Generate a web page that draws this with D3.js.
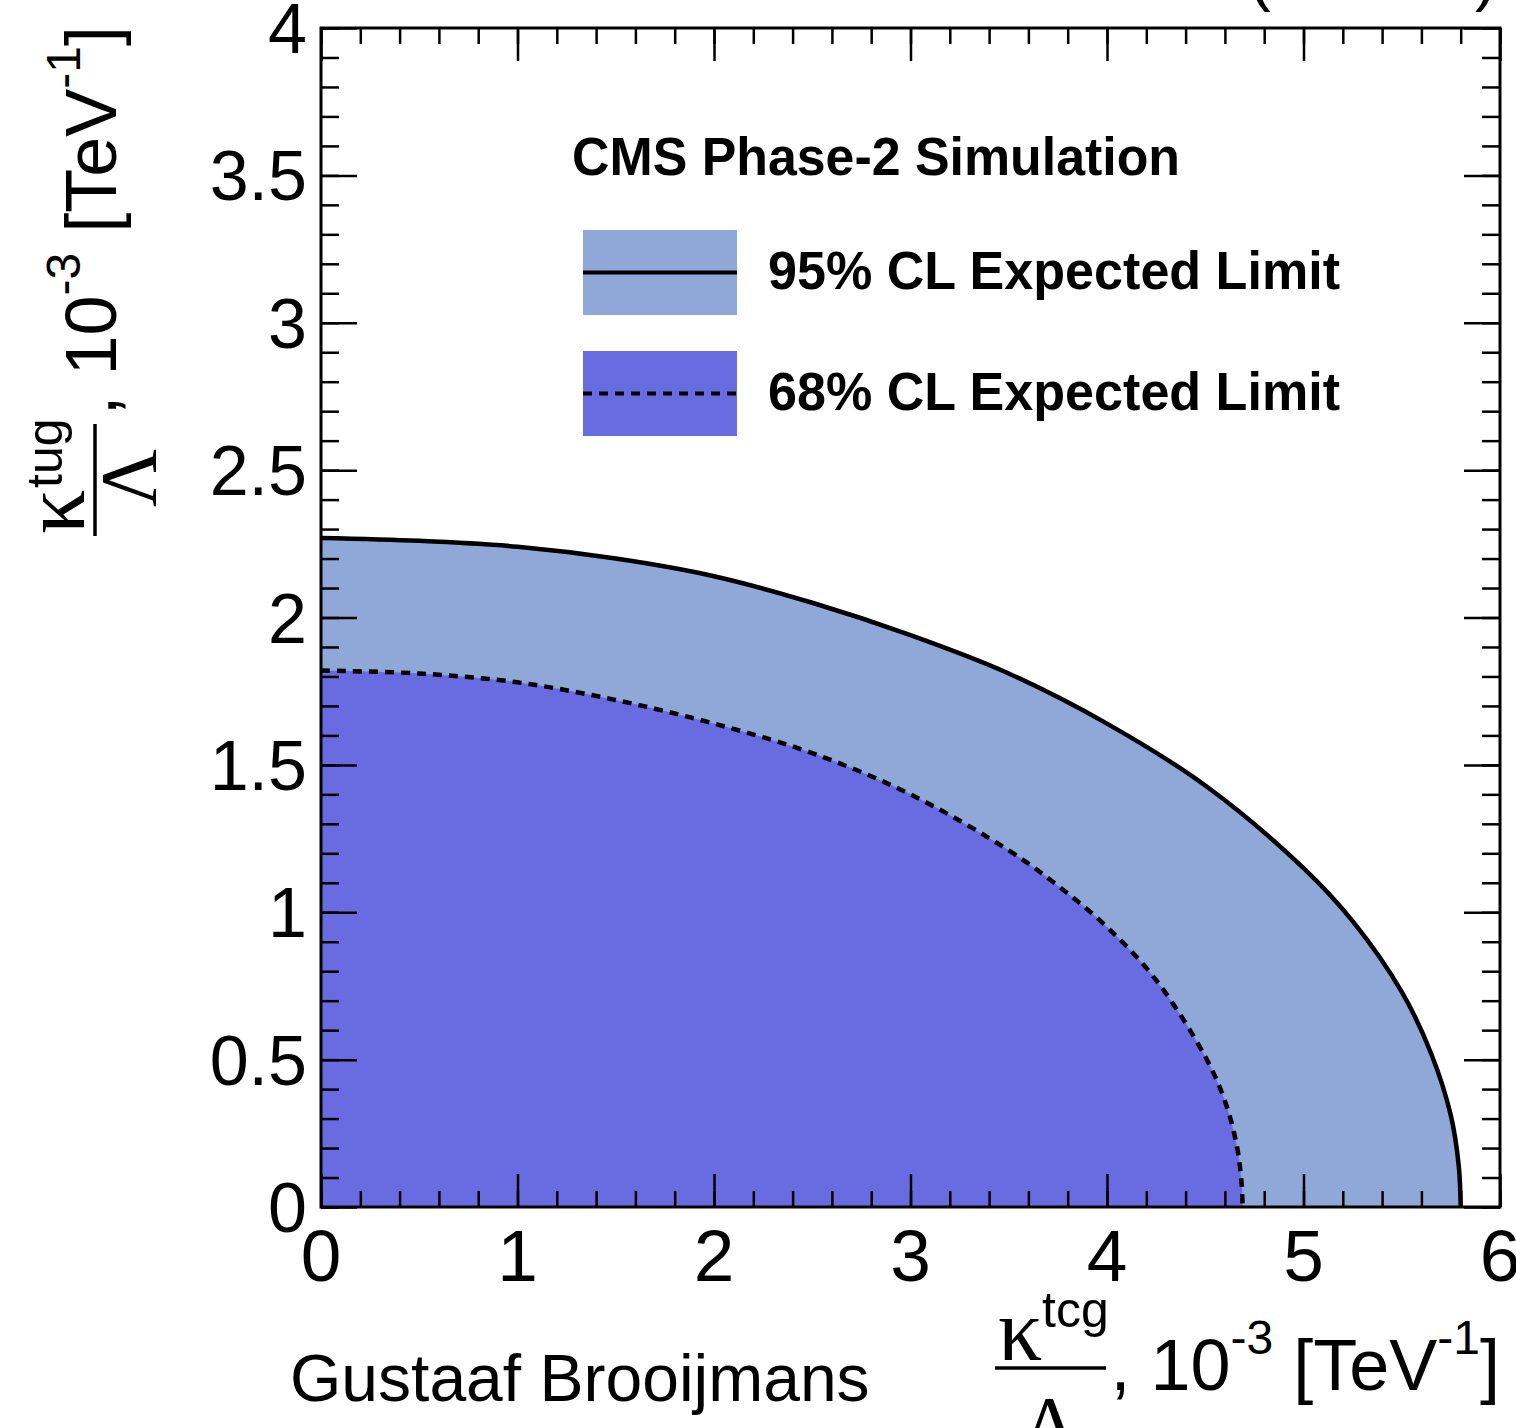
<!DOCTYPE html>
<html>
<head>
<meta charset="utf-8">
<script src="https://cdn.jsdelivr.net/npm/d3@7"></script>
<style>
  body { margin: 0; background: #fff; }
  svg { display: block; }
</style>
</head>
<body>
<div id="chart"></div>
<script>
// expected limit contours (units of 10^-3 TeV^-1)
var kappaTcg95 = [0, 0.5, 1.0, 1.5, 2.0, 2.5, 3.0, 3.5, 4.0, 4.5, 5.0, 5.25, 5.5, 5.65, 5.75, 5.79, 5.80];
var kappaTug95 = [2.27, 2.26, 2.24, 2.20, 2.14, 2.05, 1.94, 1.81, 1.64, 1.43, 1.15, 0.97, 0.73, 0.52, 0.31, 0.14, 0];
var kappaTcg68 = [0, 0.5, 1.0, 1.5, 2.0, 2.5, 3.0, 3.5, 3.75, 4.0, 4.25, 4.5, 4.6, 4.66, 4.685, 4.69];
var kappaTug68 = [1.82, 1.81, 1.78, 1.72, 1.64, 1.54, 1.40, 1.21, 1.09, 0.95, 0.77, 0.51, 0.36, 0.21, 0.08, 0];

var legendLabels = ["95% CL Expected Limit", "68% CL Expected Limit"];
var legendHeader = "CMS Phase-2 Simulation";
var energyLabel = "(14 TeV)";
var authorLabel = "Gustaaf Brooijmans";

var width = 1516;
var height = 1428;
var sans = "'Liberation Sans', Helvetica, Arial, sans-serif";
var serif = "'Liberation Serif', 'Times New Roman', serif";
var color95 = "#8fa8d8";
var color68 = "#696be0";

var x = d3.scaleLinear().domain([0, 6]).range([321, 1500]);
var y = d3.scaleLinear().domain([0, 4]).range([1207, 28]);

var svg = d3.select("#chart")
  .append("svg")
  .attr("width", width)
  .attr("height", height)
  .attr("viewBox", "0 0 " + width + " " + height);

var band95 = d3.zip(kappaTcg95, kappaTug95);
var band68 = d3.zip(kappaTcg68, kappaTug68);

var smooth = d3.curveCatmullRom.alpha(0.5);

var area = d3.area()
  .x(function (d) { return x(d[0]); })
  .y0(y(0))
  .y1(function (d) { return y(d[1]); })
  .curve(smooth);

var line = d3.line()
  .x(function (d) { return x(d[0]); })
  .y(function (d) { return y(d[1]); })
  .curve(smooth);

svg.append("path").datum(band95).attr("d", area).attr("fill", color95);
svg.append("path").datum(band68).attr("d", area).attr("fill", color68);

svg.append("path").datum(band95).attr("d", line)
  .attr("fill", "none").attr("stroke", "#000").attr("stroke-width", 4.5);
svg.append("path").datum(band68).attr("d", line)
  .attr("fill", "none").attr("stroke", "#000").attr("stroke-width", 4.5)
  .attr("stroke-dasharray", "9,7");

// ticks on all four sides, pointing inwards
function ticks(axis, transform, values, size) {
  var g = svg.append("g")
    .attr("transform", transform)
    .call(axis.tickValues(values).tickSize(-size).tickFormat(""));
  g.select(".domain").remove();
  g.selectAll("line").attr("stroke", "#000").attr("stroke-width", 2.5);
  g.selectAll("text").remove();
}

ticks(d3.axisBottom(x), "translate(0," + y(0) + ")", x.ticks(6), 33);
ticks(d3.axisBottom(x), "translate(0," + y(0) + ")", x.ticks(30), 16);
ticks(d3.axisTop(x), "translate(0," + y(4) + ")", x.ticks(6), 33);
ticks(d3.axisTop(x), "translate(0," + y(4) + ")", x.ticks(30), 16);
ticks(d3.axisLeft(y), "translate(" + x(0) + ",0)", y.ticks(8), 36);
ticks(d3.axisLeft(y), "translate(" + x(0) + ",0)", y.ticks(40), 18);
ticks(d3.axisRight(y), "translate(" + x(6) + ",0)", y.ticks(8), 36);
ticks(d3.axisRight(y), "translate(" + x(6) + ",0)", y.ticks(40), 18);

svg.append("rect")
  .attr("x", x(0)).attr("y", y(4))
  .attr("width", x(6) - x(0)).attr("height", y(0) - y(4))
  .attr("fill", "none").attr("stroke", "#000").attr("stroke-width", 3);

// tick labels
svg.append("g")
  .selectAll("text")
  .data(x.ticks(6))
  .enter()
  .append("text")
  .attr("x", function (d) { return x(d); })
  .attr("y", 1281)
  .attr("text-anchor", "middle")
  .style("font-family", sans)
  .style("font-size", "73px")
  .text(function (d) { return d; });

svg.append("g")
  .selectAll("text")
  .data(y.ticks(8))
  .enter()
  .append("text")
  .attr("x", 307)
  .attr("y", function (d) { return y(d) + 25; })
  .attr("text-anchor", "end")
  .style("font-family", sans)
  .style("font-size", "70px")
  .text(function (d) { return d; });

// x axis title
svg.append("line")
  .attr("x1", 995).attr("x2", 1106).attr("y1", 1368).attr("y2", 1368)
  .attr("stroke", "#000").attr("stroke-width", 3.5);
svg.append("text").attr("x", 998).attr("y", 1360)
  .style("font-family", serif).style("font-size", "88px").text("κ");
svg.append("text").attr("x", 1042).attr("y", 1327)
  .style("font-family", sans).style("font-size", "50px").text("tcg");
svg.append("text").attr("x", 1050).attr("y", 1452).attr("text-anchor", "middle")
  .style("font-family", serif).style("font-size", "80px").text("Λ");

var xt = svg.append("text").attr("x", 1500).attr("y", 1390)
  .attr("text-anchor", "end")
  .style("font-family", sans).style("font-size", "72px");
xt.append("tspan").text(", 10");
xt.append("tspan").attr("dy", -36).style("font-size", "48px").text("-3");
xt.append("tspan").attr("dy", 36).text(" [TeV");
xt.append("tspan").attr("dy", -36).style("font-size", "48px").text("-1");
xt.append("tspan").attr("dy", 36).text("]");

// y axis title (rotated)
svg.append("line")
  .attr("x1", 95).attr("x2", 95).attr("y1", 424).attr("y2", 536)
  .attr("stroke", "#000").attr("stroke-width", 3.5);
svg.append("text").attr("transform", "translate(84,534) rotate(-90)")
  .style("font-family", serif).style("font-size", "88px").text("κ");
svg.append("text").attr("transform", "translate(62,488) rotate(-90)")
  .style("font-family", sans).style("font-size", "50px").text("tug");
svg.append("text").attr("transform", "translate(156,478) rotate(-90)")
  .attr("text-anchor", "middle")
  .style("font-family", serif).style("font-size", "80px").text("Λ");

var yt = svg.append("text").attr("transform", "translate(116,26) rotate(-90)")
  .attr("text-anchor", "end")
  .style("font-family", sans).style("font-size", "72px");
yt.append("tspan").text(", 10");
yt.append("tspan").attr("dy", -36).style("font-size", "48px").text("-3");
yt.append("tspan").attr("dy", 36).text(" [TeV");
yt.append("tspan").attr("dy", -36).style("font-size", "48px").text("-1");
yt.append("tspan").attr("dy", 36).text("]");

// clipped energy label at the very top
svg.append("text").attr("x", 1497).attr("y", -2)
  .attr("text-anchor", "end")
  .style("font-family", sans).style("font-size", "66px").text(energyLabel);

svg.append("text").attr("x", 290).attr("y", 1401)
  .style("font-family", sans).style("font-size", "66px").style("font-weight", 300)
  .text(authorLabel);

// legend
svg.append("text").attr("x", 572).attr("y", 175)
  .attr("textLength", 608).attr("lengthAdjust", "spacingAndGlyphs")
  .style("font-family", sans).style("font-size", "53px").style("font-weight", "bold")
  .text(legendHeader);

var legendFill = [color95, color68];
var legendDash = [null, "9,7"];
var legend = svg.append("g")
  .selectAll("g")
  .data(legendLabels)
  .enter()
  .append("g")
  .attr("transform", function (d, i) { return "translate(583," + (230 + i * 121) + ")"; });

legend.append("rect")
  .attr("width", 154).attr("height", 85)
  .attr("fill", function (d, i) { return legendFill[i]; });
legend.append("line")
  .attr("x1", 0).attr("x2", 154).attr("y1", 42.5).attr("y2", 42.5)
  .attr("stroke", "#000").attr("stroke-width", 4)
  .attr("stroke-dasharray", function (d, i) { return legendDash[i]; });
legend.append("text")
  .attr("x", 185).attr("y", 59)
  .attr("textLength", 572).attr("lengthAdjust", "spacingAndGlyphs")
  .style("font-family", sans).style("font-size", "53px").style("font-weight", "bold")
  .text(function (d) { return d; });
</script>
</body>
</html>
